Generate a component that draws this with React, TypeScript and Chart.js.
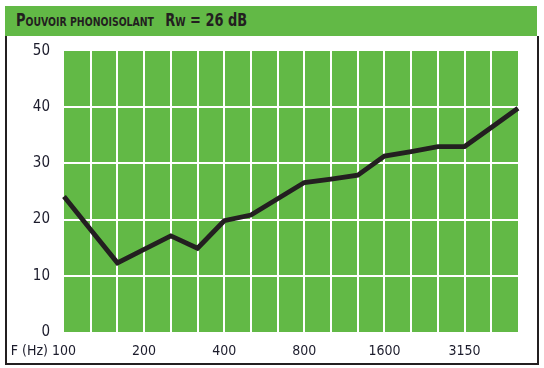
import React, { useEffect, useRef } from "react";
import { Chart, registerables } from "chart.js";

Chart.register(...registerables);

const frequencies = ["100", "125", "160", "200", "250", "315", "400", "500", "630", "800", "1000", "1250", "1600", "2000", "2500", "3150", "4000", "5000"];
const reductionDb = [24.1, 18.2, 12.3, 14.7, 17.1, 14.9, 19.8, 20.8, 23.7, 26.6, 27.2, 27.9, 31.3, 32.1, 33.0, 33.0, 36.4, 39.8];
const shownFrequencies = ["100", "200", "400", "800", "1600", "3150"];
const xAxisPrefix = "F (Hz)";

const GREEN = "#62b946";
const INK = "#231f20";
const FONT = "'Liberation Sans Narrow', 'DejaVu Sans Condensed', Arial, sans-serif";

export default function App() {
  const ref = useRef<HTMLCanvasElement | null>(null);

  useEffect(() => {
    if (!ref.current) return;
    const bgPlugin = {
      id: "bg",
      beforeDraw(chart: any) {
        const { ctx, chartArea } = chart;
        ctx.save();
        ctx.fillStyle = GREEN;
        ctx.fillRect(chartArea.left, chartArea.top, chartArea.right - chartArea.left, chartArea.bottom - chartArea.top);
        ctx.restore();
      },
      afterDraw(chart: any) {
        const { ctx } = chart;
        const xs = chart.scales.x;
        const x0 = xs.getPixelForValue(0);
        ctx.save();
        ctx.font = `14px ${FONT}`;
        ctx.fillStyle = "#1c1c2c";
        ctx.textAlign = "right";
        ctx.textBaseline = "middle";
        ctx.fillText(xAxisPrefix, x0 - 16, 351);
        ctx.restore();
      },
    };
    const chart = new Chart(ref.current, {
      type: "line",
      data: {
        labels: frequencies,
        datasets: [
          {
            data: reductionDb,
            borderColor: INK,
            borderWidth: 4.8,
            pointRadius: 0,
            tension: 0,
            borderJoinStyle: "miter",
          },
        ],
      },
      options: {
        animation: false,
        responsive: false,
        maintainAspectRatio: false,
        layout: { padding: { left: 0, top: 51, right: 26, bottom: 0 } },
        plugins: { legend: { display: false }, tooltip: { enabled: false } },
        scales: {
          x: {
            afterFit(scale: any) {
              scale.height = 36;
            },
            border: { display: false },
            grid: {
              drawTicks: false,
              lineWidth: 2,
              color: (c: any) => (c.index === 0 || c.index === frequencies.length - 1 ? "rgba(0,0,0,0)" : "#ffffff"),
            },
            ticks: {
              autoSkip: false,
              maxRotation: 0,
              padding: 11,
              color: "#1c1c2c",
              font: { family: FONT, size: 14 },
              callback: (_v: any, i: number) => (shownFrequencies.includes(frequencies[i]) ? frequencies[i] : ""),
            },
          },
          y: {
            min: 0,
            max: 50,
            afterFit(scale: any) {
              scale.width = 64;
            },
            border: { display: false },
            grid: {
              drawTicks: false,
              lineWidth: 2,
              color: (c: any) => (c.tick && (c.tick.value === 0 || c.tick.value === 50) ? "rgba(0,0,0,0)" : "#ffffff"),
            },
            ticks: {
              stepSize: 10,
              padding: 14,
              color: "#1c1c2c",
              font: { family: FONT, size: 15 },
            },
          },
        },
      },
      plugins: [bgPlugin],
    } as any);
    return () => chart.destroy();
  }, []);

  return (
    <div style={{ position: "fixed", left: 0, top: 0, width: 544, height: 368, background: "#fff", overflow: "hidden" }}>
      <div
        style={{
          position: "absolute",
          left: 5,
          top: 6,
          width: 532,
          height: 30,
          background: GREEN,
          fontFamily: FONT,
          fontWeight: "bold",
          color: "#231f20",
          whiteSpace: "nowrap",
        }}
      >
        <div style={{ position: "absolute", left: 11, top: 4, lineHeight: "20px", transform: "scaleX(0.8)", transformOrigin: "left center" }}>
          <span style={{ fontSize: 18 }}>P</span>
          <span style={{ fontSize: 13 }}>OUVOIR PHONOISOLANT</span>
          <span style={{ fontSize: 18, marginLeft: 14 }}>R</span>
          <span style={{ fontSize: 13 }}>W</span>
          <span style={{ fontSize: 18 }}> = 26 dB</span>
        </div>
      </div>
      <div
        style={{
          position: "absolute",
          left: 5,
          top: 36,
          width: 530,
          height: 327,
          borderLeft: "2px solid #231f20",
          borderRight: "2px solid #231f20",
          borderBottom: "2px solid #231f20",
        }}
      />
      <canvas ref={ref} width={544} height={368} style={{ position: "absolute", left: 0, top: 0 }} />
    </div>
  );
}
